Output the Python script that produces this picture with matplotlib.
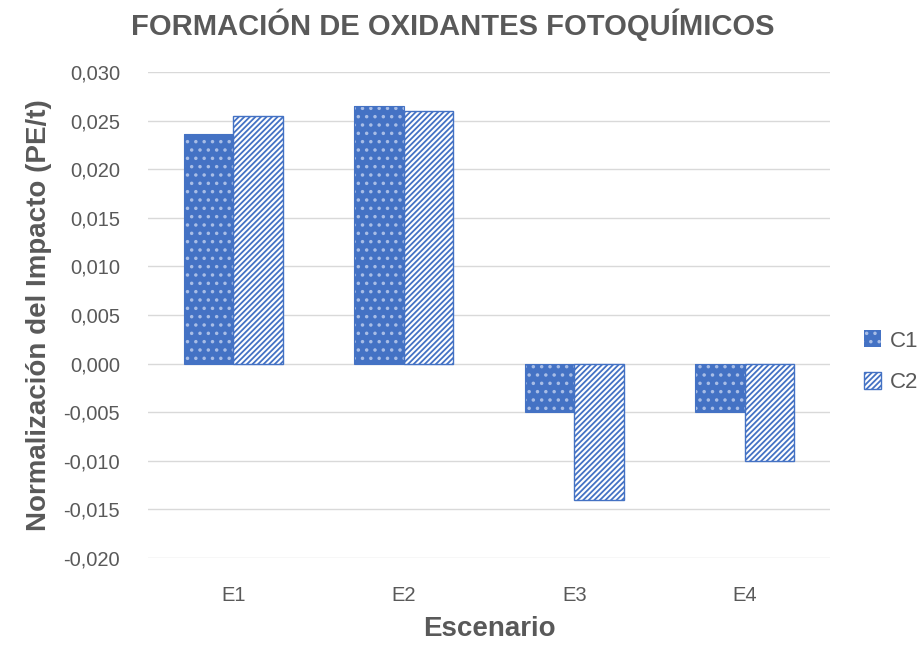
import matplotlib.pyplot as plt
import numpy as np
from matplotlib.patches import Patch

plt.rcParams["font.family"] = ["Liberation Sans Narrow", "Liberation Sans", "DejaVu Sans"]
plt.rcParams["hatch.linewidth"] = 1.3

scenarios = ["E1", "E2", "E3", "E4"]
c1 = [0.0236, 0.0265, -0.0050, -0.0050]
c2 = [0.0255, 0.0260, -0.0140, -0.0100]
yticks = np.arange(-0.020, 0.0301, 0.005)

BLUE = "#4472C4"
DOT = "#A8BDE6"
GRAY = "#595959"

fig = plt.figure(figsize=(9.17, 6.54), dpi=100)
ax = fig.add_axes([0.1614, 0.1468, 0.7437, 0.7431])

x = np.arange(len(scenarios))
w = 0.29
ax.bar(x - w / 2, c1, width=w, color=BLUE, edgecolor=DOT, hatch="..", linewidth=0, zorder=3)
ax.bar(x - w / 2, c1, width=w, color="none", edgecolor=BLUE, linewidth=0.8, zorder=4)
ax.bar(x + w / 2, c2, width=w, color="white", edgecolor=BLUE, hatch="//////", linewidth=1.0, zorder=3)

ax.set_xlim(-0.5, 3.5)
ax.set_ylim(-0.020, 0.030)
ax.set_yticks(yticks)
ax.set_yticklabels([f"{v:.3f}".replace(".", ",").replace("-0,000", "0,000") for v in yticks],
                   fontsize=14.5, color=GRAY)
ax.set_xticks(x)
ax.set_xticklabels(scenarios, fontsize=14.5, color=GRAY)
ax.tick_params(axis="y", length=0, pad=20)
ax.tick_params(axis="x", length=0, pad=20)
ax.grid(axis="y", color="#D9D9D9", linewidth=1, zorder=0)
for s in ax.spines.values():
    s.set_visible(False)

ax.set_ylabel("Normalización del Impacto (PE/t)", fontsize=20, fontweight="bold", color=GRAY, labelpad=8)
ax.set_xlabel("Escenario", fontsize=20, fontweight="bold", color=GRAY, labelpad=8)
fig.text(0.4935, 0.962, "FORMACIÓN DE OXIDANTES FOTOQUÍMICOS", ha="center", va="center",
         fontsize=21, fontweight="bold", color=GRAY)

handles = [Patch(facecolor=BLUE, edgecolor=DOT, hatch="..", linewidth=0),
           Patch(facecolor="white", edgecolor=BLUE, hatch="//////")]
fig.legend(handles, ["C1", "C2"], loc="center left", bbox_to_anchor=(0.92, 0.447),
           frameon=False, fontsize=16, labelcolor=GRAY, handlelength=0.8, handleheight=0.8,
           handletextpad=0.4, labelspacing=0.9)

fig.savefig("out.png", dpi=100)
